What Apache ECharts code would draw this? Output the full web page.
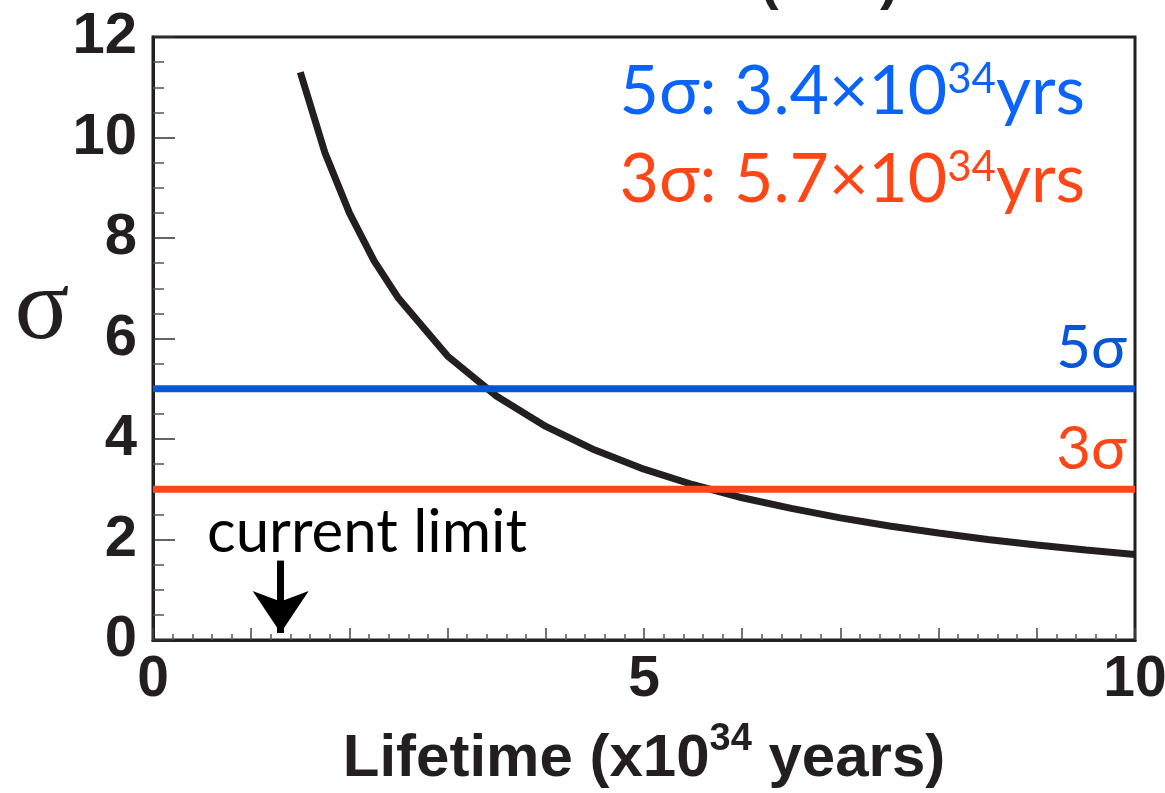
<!DOCTYPE html>
<html>
<head>
<meta charset="utf-8">
<script src="https://cdn.jsdelivr.net/npm/echarts@6/dist/echarts.min.js"></script>
<style>
html,body{margin:0;padding:0;background:#fff;}
#chart{width:1165px;height:793px;}
</style>
</head>
<body>
<div id="chart"></div>
<script>
// ---- data ----
const lifetime = [1.5, 1.75, 2, 2.25, 2.5, 3, 3.5, 4, 4.5, 5, 5.5, 6, 6.5, 7, 7.5, 8, 8.5, 9, 9.5, 10];
const sigma    = [11.3, 9.7, 8.5, 7.55, 6.8, 5.65, 4.85, 4.25, 3.78, 3.4, 3.09, 2.83, 2.62, 2.43, 2.27, 2.13, 2.0, 1.89, 1.79, 1.70];
const xRange = [0, 10];
const fiveSigmaLevel = 5;
const threeSigmaLevel = 3;
const currentLimit = 1.3;           // x position of "current limit" arrow
const arrowFromTo = [1.58, 0.14];   // arrow y extent (sigma units)
const xTickLabels = [0, 5, 10];
const yTickLabels = [0, 2, 4, 6, 8, 10, 12];

const BLACK = '#231f20';
const BLUE_LINE = '#0656d6';
const BLUE_TXT = '#0a64fa';
const RED = '#ff4616';
const AX_FONT = '"Liberation Sans", Arial, Helvetica, sans-serif';
const HUM_FONT = 'Lato, "Open Sans", sans-serif';
const SERIF_FONT = '"Liberation Serif", "DejaVu Serif", serif';

const chart = echarts.init(document.getElementById('chart'));

const option = {
  animation: false,
  backgroundColor: '#fff',
  grid: {
    left: 153, right: 30, top: 37, bottom: 153,
    outerBoundsMode: 'none', containLabel: false,
    show: true, borderColor: BLACK, borderWidth: 3, backgroundColor: 'transparent'
  },
  xAxis: {
    type: 'value', min: xRange[0], max: xRange[1], interval: 1,
    axisLine: { show: true, lineStyle: { color: BLACK, width: 3 } },
    axisTick: { show: true, inside: true, length: 12, lineStyle: { color: '#444', width: 1.5 } },
    minorTick: { show: true, splitNumber: 5, length: 6, lineStyle: { color: '#555', width: 1.5 } },
    splitLine: { show: false },
    axisLabel: {
      margin: 12, color: BLACK, fontFamily: AX_FONT, fontWeight: 'bold', fontSize: 57,
      formatter: v => (xTickLabels.indexOf(v) >= 0 ? String(v) : '')
    },
    name: 'Lifetime (x10{sup|34} years)',
    nameLocation: 'middle', nameGap: 81,
    nameTextStyle: {
      color: BLACK, fontFamily: AX_FONT, fontWeight: 'bold', fontSize: 60,
      rich: { sup: { fontFamily: AX_FONT, fontWeight: 'bold', fontSize: 38, color: BLACK, verticalAlign: 'top', padding: [0, 0, 38, 0] } }
    }
  },
  yAxis: {
    type: 'value', min: 0, max: 12, interval: 2,
    axisLine: { show: true, lineStyle: { color: BLACK, width: 3 } },
    axisTick: { show: true, inside: true, length: 22, lineStyle: { color: '#333', width: 1.5 } },
    minorTick: { show: true, splitNumber: 4, length: 11, lineStyle: { color: '#555', width: 1.5 } },
    splitLine: { show: false },
    axisLabel: {
      margin: 16, color: BLACK, fontFamily: AX_FONT, fontWeight: 'bold', fontSize: 58,
      formatter: v => (yTickLabels.indexOf(v) >= 0 ? String(v) : '')
    }
  },
  series: [
    {
      type: 'line', name: 'significance',
      data: lifetime.map((x, i) => [x, sigma[i]]),
      symbol: 'none', smooth: false,
      lineStyle: { color: BLACK, width: 7 },
      z: 2,
      markLine: {
        silent: true, animation: false,
        symbol: ['none', 'arrow'], symbolSize: 42,
        lineStyle: { color: '#000', width: 7, type: 'solid' },
        itemStyle: { color: '#000' },
        label: { show: false },
        data: [[{ coord: [currentLimit, arrowFromTo[0]] }, { coord: [currentLimit, arrowFromTo[1]] }]]
      }
    },
    {
      type: 'line', name: '5σ',
      data: [[xRange[0], fiveSigmaLevel], [xRange[1], fiveSigmaLevel]],
      symbol: 'circle', symbolSize: 0.1, showSymbol: true,
      lineStyle: { color: BLUE_LINE, width: 7 }, itemStyle: { color: BLUE_LINE },
      z: 3,
      label: {
        show: true, position: 'top', align: 'right', offset: [-8, -5],
        formatter: p => (p.dataIndex === 1 ? '5σ' : ''),
        color: BLUE_LINE, fontFamily: HUM_FONT, fontSize: 60
      }
    },
    {
      type: 'line', name: '3σ',
      data: [[xRange[0], threeSigmaLevel], [xRange[1], threeSigmaLevel]],
      symbol: 'circle', symbolSize: 0.1, showSymbol: true,
      lineStyle: { color: RED, width: 7 }, itemStyle: { color: RED },
      z: 3,
      label: {
        show: true, position: 'top', align: 'right', offset: [-8, -5],
        formatter: p => (p.dataIndex === 1 ? '3σ' : ''),
        color: RED, fontFamily: HUM_FONT, fontSize: 60
      }
    }
  ],
  graphic: [
    {
      type: 'text', x: 42, y: 362,
      style: { text: 'σ', fill: BLACK, font: '102px ' + SERIF_FONT, align: 'center', verticalAlign: 'bottom' }
    },
    {
      type: 'text', right: 80, top: 58,
      style: {
        text: '5σ: 3.4×10{sup|34}yrs',
        fill: BLUE_TXT, font: '68px ' + HUM_FONT,
        rich: { sup: { fill: BLUE_TXT, fontFamily: HUM_FONT, fontSize: 42, verticalAlign: 'top', padding: [0, 0, 24, 0] } }
      }
    },
    {
      type: 'text', right: 80, top: 146,
      style: {
        text: '3σ: 5.7×10{sup|34}yrs',
        fill: RED, font: '68px ' + HUM_FONT,
        rich: { sup: { fill: RED, fontFamily: HUM_FONT, fontSize: 42, verticalAlign: 'top', padding: [0, 0, 24, 0] } }
      }
    },
    {
      type: 'text', left: 207, top: 503,
      style: { text: 'current limit', fill: '#000', font: '60px ' + HUM_FONT }
    },
    {
      type: 'text', x: 760, y: 11,
      style: { text: '(', fill: BLACK, font: 'bold 56px ' + AX_FONT, verticalAlign: 'bottom' }
    },
    {
      type: 'text', x: 880, y: 11,
      style: { text: ')', fill: BLACK, font: 'bold 56px ' + AX_FONT, verticalAlign: 'bottom' }
    }
  ]
};

chart.setOption(option);
</script>
</body>
</html>
